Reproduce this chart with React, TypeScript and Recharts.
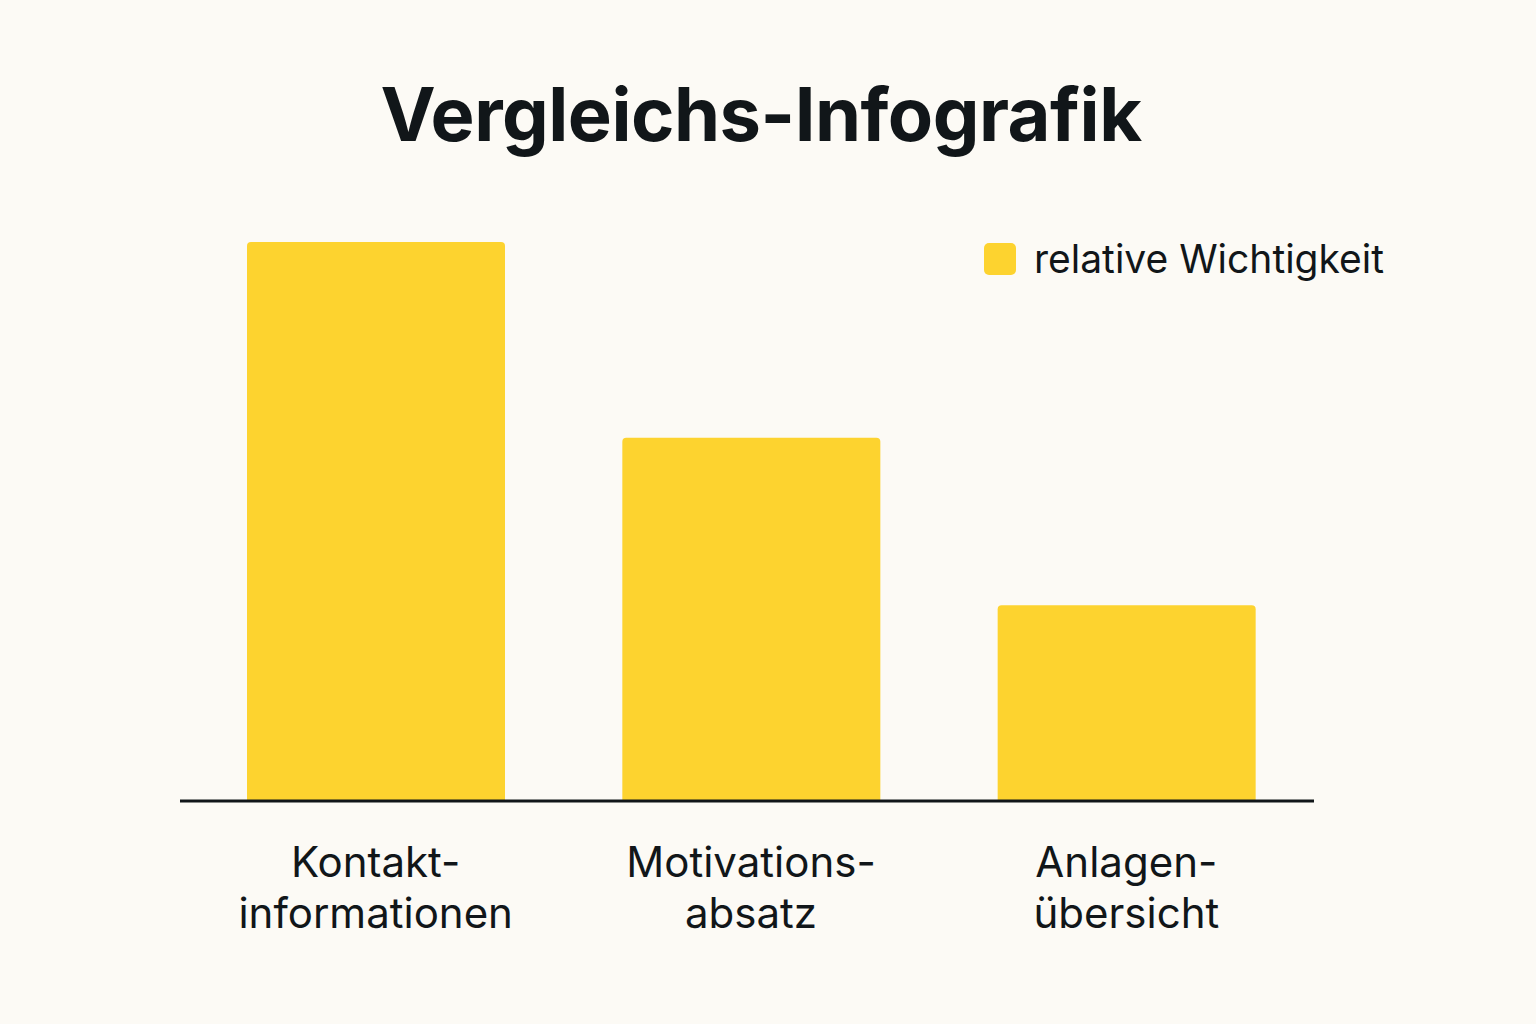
import React from "react";
import { BarChart, Bar, XAxis, YAxis, Legend } from "recharts";

const categories = ["Kontaktinformationen", "Motivationsabsatz", "Anlagenübersicht"];
const tickLines: Record<string, string[]> = {
  Kontaktinformationen: ["Kontakt-", "informationen"],
  Motivationsabsatz: ["Motivations-", "absatz"],
  Anlagenübersicht: ["Anlagen-", "übersicht"],
};
const values = [100, 65, 35];
const seriesName = "relative Wichtigkeit";
const title = "Vergleichs-Infografik";

const data = categories.map((c, i) => ({ name: c, value: values[i] }));

const BG = "#fcfaf5";
const YELLOW = "#fdd32f";
const INK = "#111619";
const FONT = "Inter, 'Noto Sans', sans-serif";

const Tick = (props: any) => {
  const { x, y, payload } = props;
  const lines = tickLines[payload.value] || [payload.value];
  return (
    <g transform={`translate(${x},${y})`}>
      {lines.map((l: string, i: number) => (
        <text
          key={i}
          x={0}
          y={68 + i * 51}
          textAnchor="middle"
          fontFamily={FONT}
          fontSize={42}
          fill={INK}
        >
          {l}
        </text>
      ))}
    </g>
  );
};

const LegendContent = () => (
  <div style={{ display: "flex", alignItems: "center", fontFamily: FONT }}>
    <div
      style={{
        width: 32,
        height: 32,
        borderRadius: 5,
        background: YELLOW,
        marginRight: 18,
      }}
    />
    <span style={{ fontSize: 39, color: INK, whiteSpace: "nowrap" }}>{seriesName}</span>
  </div>
);

export default function App() {
  return (
    <div
      style={{
        position: "absolute",
        left: 0,
        top: 0,
        width: 1536,
        height: 1024,
        background: BG,
        overflow: "hidden",
      }}
    >
      <div
        style={{
          position: "absolute",
          left: 0,
          top: 66,
          width: 1522,
          textAlign: "center",
          fontFamily: FONT,
          fontWeight: 700,
          fontSize: 74,
          color: INK,
          lineHeight: "96px",
          letterSpacing: -0.5,
        }}
      >
        {title}
      </div>
      <BarChart
        width={1536}
        height={1024}
        data={data}
        margin={{ top: 242, right: 222, bottom: 83, left: 180 }}
      >
        <XAxis
          dataKey="name"
          axisLine={{ stroke: INK, strokeWidth: 3 }}
          tickLine={false}
          tick={<Tick />}
          height={140}
          padding={{ left: 8, right: 0 }}
          interval={0}
        />
        <YAxis hide domain={[0, 100]} />
        <Legend
          layout="horizontal"
          verticalAlign="middle"
          align="center"
          content={<LegendContent />}
          wrapperStyle={{ position: "absolute", left: 984, top: 235, width: 440, height: 46 }}
        />
        <Bar
          dataKey="value"
          name={seriesName}
          fill={YELLOW}
          barSize={258}
          radius={[4, 4, 0, 0]}
          isAnimationActive={false}
        />
      </BarChart>
    </div>
  );
}
